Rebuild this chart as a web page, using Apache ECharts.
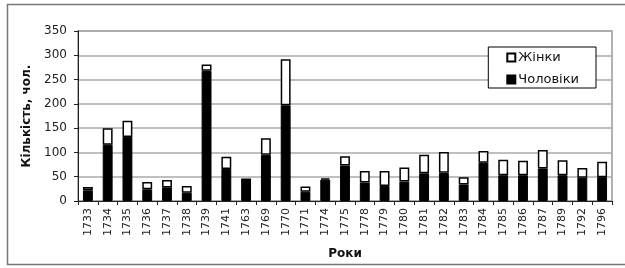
<!DOCTYPE html>
<html>
<head>
<meta charset="utf-8">
<script src="https://cdn.jsdelivr.net/npm/echarts@6/dist/echarts.min.js"></script>
<style>
  html, body { margin: 0; padding: 0; background: #fff; }
  #chart { width: 625px; height: 268px; }
</style>
</head>
<body>
<div id="chart"></div>
<script>
// роки
const years = ["1733", "1734", "1735", "1736", "1737", "1738", "1739", "1741", "1763", "1769",
  "1770", "1771", "1774", "1775", "1778", "1779", "1780", "1781", "1782", "1783",
  "1784", "1785", "1786", "1787", "1789", "1792", "1796"];
// чоловіки
const men = [22, 116, 132, 24, 28, 17, 268, 66, 45, 95,
  197, 19, 44, 73, 38, 31, 40, 57, 58, 34,
  79, 53, 53, 67, 53, 48, 49];
// жінки
const women = [7, 34, 33, 15, 15, 14, 13, 25, 0, 34,
  95, 11, 3, 19, 24, 31, 29, 38, 43, 15,
  24, 32, 30, 38, 31, 20, 32];
const yTicks = [0, 50, 100, 150, 200, 250, 300, 350];

const myChart = echarts.init(document.getElementById("chart"));
const font = "DejaVu Sans, Verdana, sans-serif";

const option = {
  animation: false,
  backgroundColor: "#ffffff",
  textStyle: { fontFamily: font },
  graphic: [
    {
      type: "rect",
      shape: { x: 7.5, y: 4.5, width: 640, height: 260 },
      style: { fill: "none", stroke: "#777", lineWidth: 1.5 },
      silent: true,
    },
    {
      // рамка області побудови
      type: "rect",
      shape: { x: 78, y: 31, width: 534, height: 170 },
      style: { fill: "none", stroke: "#999", lineWidth: 1.5 },
      silent: true,
      z: 0,
    },
  ],
  legend: {
    data: ["Жінки", "Чоловіки"],
    icon: "rect",
    orient: "vertical",
    right: 29,
    top: 47,
    padding: [4, 17, 2, 18],
    itemGap: 9,
    itemWidth: 8,
    itemHeight: 8,
    borderColor: "#000",
    borderWidth: 1,
    backgroundColor: "#fff",
    textStyle: { fontSize: 13, color: "#111", fontFamily: font, padding: [0, 0, 0, -2] },
  },
  grid: {
    left: 78,
    right: 13,
    top: 31,
    bottom: 67,
  },
  xAxis: {
    type: "category",
    data: years,
    name: "Роки",
    nameLocation: "middle",
    nameGap: 47,
    nameTextStyle: { fontSize: 12, fontWeight: "bold", color: "#111", fontFamily: font },
    axisLine: { lineStyle: { color: "#222", width: 1 } },
    axisTick: { show: true, length: 4, lineStyle: { color: "#222" } },
    axisLabel: { rotate: 90, fontSize: 11, color: "#222", margin: 7, interval: 0, fontFamily: font },
  },
  yAxis: {
    type: "value",
    min: 0,
    max: 350,
    interval: 50,
    name: "Кількість, чол.",
    nameLocation: "middle",
    nameRotate: 90,
    nameGap: 45,
    nameTextStyle: { fontSize: 12, fontWeight: "bold", color: "#111", fontFamily: font },
    axisLine: { show: true, lineStyle: { color: "#222", width: 1 } },
    axisTick: { show: true, length: 4, lineStyle: { color: "#222" } },
    axisLabel: {
      fontSize: 12,
      color: "#222",
      margin: 11,
      fontFamily: font,
      formatter: v => (yTicks.indexOf(v) >= 0 ? String(v) : ""),
    },
    splitLine: { lineStyle: { color: "#aaa", width: 1.5 } },
  },
  series: [
    {
      name: "Чоловіки",
      type: "bar",
      stack: "total",
      barWidth: "50%",
      data: men,
      itemStyle: { color: "#000", borderColor: "#000", borderWidth: 1 },
    },
    {
      name: "Жінки",
      type: "bar",
      stack: "total",
      barWidth: "50%",
      data: women,
      itemStyle: { color: "#fff", borderColor: "#000", borderWidth: 1.5 },
    },
  ],
};
myChart.setOption(option);
</script>
</body>
</html>
